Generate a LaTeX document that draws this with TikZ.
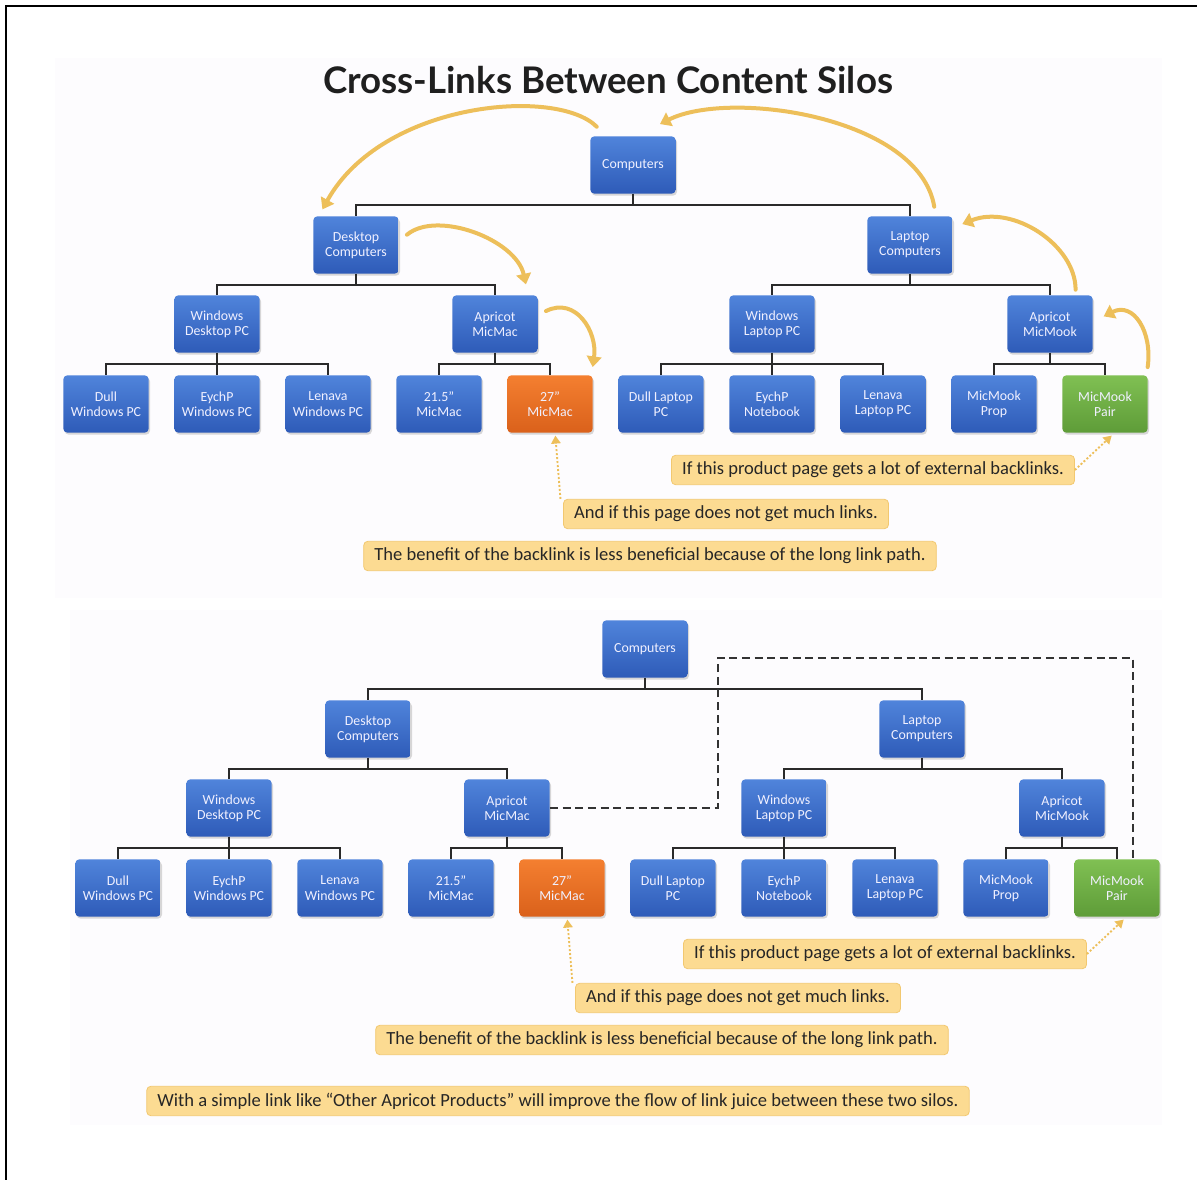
\documentclass[tikz,border=0pt]{standalone}
\usepackage{fontspec}
\setmainfont{Carlito}
\newfontfamily\titlefont{Lato}
\usetikzlibrary{arrows.meta,shadows}
\definecolor{boxtop}{HTML}{5084DB}
\definecolor{boxbot}{HTML}{2E5BB8}
\definecolor{ortop}{HTML}{F47F30}
\definecolor{orbot}{HTML}{DA611B}
\definecolor{grtop}{HTML}{80C053}
\definecolor{grbot}{HTML}{5E9C38}
\definecolor{gold}{HTML}{EDBF5A}
\definecolor{callfill}{HTML}{FCDB92}
\definecolor{calldraw}{HTML}{F2C870}
\definecolor{linkline}{HTML}{2A2A2A}
\definecolor{panel}{HTML}{FDFCFE}
\tikzset{
  pbox/.style={rectangle, rounded corners=3pt, minimum width=64pt, minimum height=43pt,
    align=center, text=white!94!blue, font=\fontsize{10.4}{11.5}\selectfont, inner sep=2pt,
    top color=boxtop, bottom color=boxbot,
    drop shadow={shadow xshift=1pt, shadow yshift=-1.5pt, opacity=0.3}},
  orbox/.style={pbox, top color=ortop, bottom color=orbot},
  grbox/.style={pbox, top color=grtop, bottom color=grbot},
  callout/.style={rectangle, rounded corners=3pt, fill=callfill, draw=calldraw, line width=0.6pt,
    inner xsep=8pt, inner ysep=0pt, minimum height=22pt, text=black!85,
    font=\fontsize{13.9}{15}\selectfont},
  treeline/.style={draw=linkline, line width=1.5pt},
  goldarc/.style={draw=gold, line width=3pt, line cap=round, -{Triangle[width=11pt,length=8pt]}},
  dotarrow/.style={draw=gold, line width=1.4pt, dash pattern=on 1.5pt off 1.5pt, -{Triangle[width=7pt,length=6pt]}},
  dashlink/.style={draw=black!80, line width=1.6pt, dash pattern=on 6pt off 3.5pt}
}
\newcommand\silotree[1]{%
  \node[pbox] (#1comp) at (633,165) {Computers};
  \node[pbox] (#1desk) at (356,245) {Desktop\\Computers};
  \node[pbox] (#1lap)  at (910,245) {Laptop\\Computers};
  \node[pbox] (#1wdpc) at (217,324) {Windows\\Desktop PC};
  \node[pbox] (#1amm)  at (495,324) {Apricot\\MicMac};
  \node[pbox] (#1wlpc) at (772,324) {Windows\\Laptop PC};
  \node[pbox] (#1ammk) at (1050,324) {Apricot\\MicMook};
  \node[pbox] (#1dull) at (106,404) {Dull\\Windows PC};
  \node[pbox] (#1eyw)  at (217,404) {EychP\\Windows PC};
  \node[pbox] (#1lenw) at (328,404) {Lenava\\Windows PC};
  \node[pbox] (#1m21)  at (439,404) {21.5”\\MicMac};
  \node[orbox] (#1m27) at (550,404) {27”\\MicMac};
  \node[pbox] (#1dlp)  at (661,404) {Dull Laptop\\PC};
  \node[pbox] (#1eyn)  at (772,404) {EychP\\Notebook};
  \node[pbox] (#1lenl) at (883,404) {Lenava\\Laptop PC};
  \node[pbox] (#1prop) at (994,404) {MicMook\\Prop};
  \node[grbox] (#1pair) at (1105,404) {MicMook\\Pair};
  \foreach \p/\c in {comp/desk,comp/lap,desk/wdpc,desk/amm,lap/wlpc,lap/ammk,
      wdpc/dull,wdpc/eyw,wdpc/lenw,amm/m21,amm/m27,wlpc/dlp,wlpc/eyn,wlpc/lenl,ammk/prop,ammk/pair}
    {\draw[treeline] (#1\p.south) -- ++(0,11) -| (#1\c.north);}
  \node[callout] (#1if)  at (873,470) {If this product page gets a lot of external backlinks.};
  \node[callout] (#1and) at (726,514) {And if this page does not get much links.};
  \node[callout] (#1ben) at (650,556) {The benefit of the backlink is less beneficial because of the long link path.};
  \draw[dotarrow] ([xshift=-2pt]#1and.north west) -- ([xshift=4pt,yshift=-2pt]#1m27.south);
  \draw[dotarrow] (#1if.east) -- ([xshift=5pt,yshift=-2pt]#1pair.south);
}
\begin{document}
\begin{tikzpicture}[x=0.75pt,y=-0.75pt]
\useasboundingbox (0,0) rectangle (1197,1180);
\fill[white] (0,0) rectangle (1197,1180);
\fill[panel] (55,58) rectangle (1162,598);
\fill[panel] (70,610) rectangle (1162,1125);
\draw[line width=1.5pt] (6,1180) -- (6,6) -- (1197,6);
\node[font=\titlefont\bfseries\fontsize{27.5}{32}\selectfont, text=black!88] (title) at (608,80) {Cross-Links Between Content Silos};
% top tree
\silotree{T}
% gold arcs (link flow)
\draw[goldarc] ([xshift=5pt,yshift=7pt]Tcomp.north west) .. controls +(-40,-40) and +(60,-108) .. ([xshift=7pt,yshift=5pt]Tdesk.north west);
\draw[goldarc] ([xshift=-14pt,yshift=7pt]Tlap.north east) .. controls +(-15,-90) and +(70,-35) .. ([xshift=-12pt,yshift=9pt]Tcomp.north east);
\draw[goldarc] ([xshift=6pt,yshift=-14pt]Tdesk.north east) .. controls +(30,-25) and +(-10,-45) .. ([xshift=-9pt,yshift=8pt]Tamm.north east);
\draw[goldarc] ([xshift=-13pt,yshift=4pt]Tammk.north east) .. controls +(0,-45) and +(50,-20) .. ([xshift=7pt,yshift=-6pt]Tlap.north east);
\draw[goldarc] ([xshift=6pt,yshift=-12pt]Tamm.north east) .. controls +(30,-15) and +(5,-35) .. ([xshift=32pt,yshift=6pt]Tm27.north);
\draw[goldarc] ([xshift=32pt,yshift=6pt]Tpair.north) .. controls +(5,-35) and +(30,-15) .. ([xshift=8pt,yshift=-16pt]Tammk.north east);
% bottom tree
\begin{scope}[shift={(12,484)}]
\silotree{B}
\end{scope}
\coordinate (dA) at (718,658);
\draw[dashlink] (Bamm.east) -| (dA) -| ([xshift=12pt]Bpair.north);
\node[callout] (with) at (558,1101) {With a simple link like “Other Apricot Products” will improve the flow of link juice between these two silos.};
\end{tikzpicture}
\end{document}
